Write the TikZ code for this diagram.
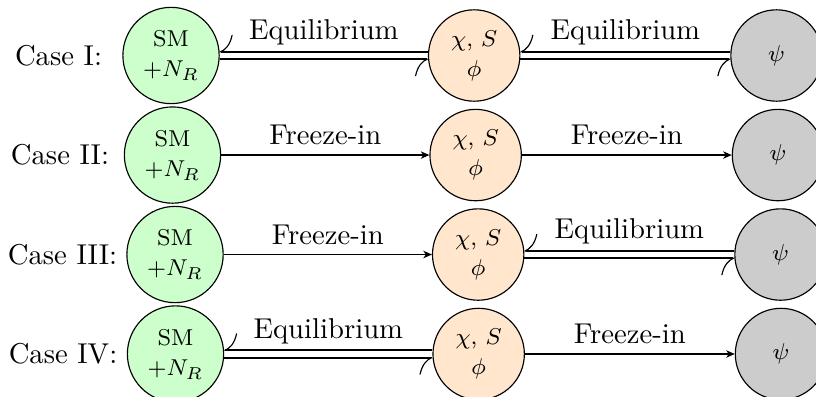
\documentclass[tikz,border=0pt]{standalone}
\usepackage{amsmath}
\usetikzlibrary{arrows.meta}
\definecolor{SMFill}{HTML}{CCFFCC}
\definecolor{DarkFill}{HTML}{FFE6CC}
\definecolor{PsiFill}{HTML}{CCCCCC}

\begin{document}
\begin{tikzpicture}[x=1cm,y=1cm,>={Stealth[length=3pt,width=2.6pt,inset=0.9pt]},
  blob/.style={circle,draw,minimum size=1.12cm,inner sep=0pt,font=\footnotesize,align=center},
  freeze/.style={->},
  eqtop/.style={line width=0.7pt,arrows={Computer Modern Rightarrow[right,length=4.5pt,width=12pt,line width=0.4pt]-}},
  eqbot/.style={line width=0.7pt,arrows={-Computer Modern Rightarrow[right,length=4.5pt,width=12pt,line width=0.4pt]}}]
\useasboundingbox (0,0) rectangle (10,-4.853);
% Case I
\node (lab1) at (0.717,-0.680) {Case I:};
\node[blob,fill=SMFill,minimum size=1.18cm] (sm1) at (2.096,-0.680) {SM\\[1pt]$+N_R$};
\node[blob,fill=DarkFill] (dk1) at (5.811,-0.680) {$\chi$, $S$\\[1pt]$\phi$};
\node[blob,fill=PsiFill] (psi1) at (9.516,-0.680) {$\psi$};
\draw[eqtop] ([yshift=1.25pt]sm1.east) -- ([yshift=1.25pt]dk1.west);
\draw[eqbot] ([yshift=-1.25pt]sm1.east) -- ([yshift=-1.25pt]dk1.west);
\path (sm1) -- node[above] {Equilibrium} (dk1);
\draw[eqtop] ([yshift=1.25pt]dk1.east) -- ([yshift=1.25pt]psi1.west);
\draw[eqbot] ([yshift=-1.25pt]dk1.east) -- ([yshift=-1.25pt]psi1.west);
\path (dk1) -- node[above] {Equilibrium} (psi1);
% Case II
\node (lab2) at (0.735,-1.900) {Case II:};
\node[blob,fill=SMFill,minimum size=1.18cm] (sm2) at (2.114,-1.900) {SM\\[1pt]$+N_R$};
\node[blob,fill=DarkFill] (dk2) at (5.829,-1.900) {$\chi$, $S$\\[1pt]$\phi$};
\node[blob,fill=PsiFill] (psi2) at (9.534,-1.900) {$\psi$};
\draw[freeze] (sm2) -- node[above] {Freeze-in} (dk2);
\draw[freeze] (dk2) -- node[above] {Freeze-in} (psi2);
% Case III
\node (lab3) at (0.766,-3.119) {Case III:};
\node[blob,fill=SMFill,minimum size=1.18cm] (sm3) at (2.145,-3.119) {SM\\[1pt]$+N_R$};
\node[blob,fill=DarkFill] (dk3) at (5.860,-3.119) {$\chi$, $S$\\[1pt]$\phi$};
\node[blob,fill=PsiFill] (psi3) at (9.565,-3.119) {$\psi$};
\draw[freeze] (sm3) -- node[above] {Freeze-in} (dk3);
\draw[eqtop] ([yshift=1.25pt]dk3.east) -- ([yshift=1.25pt]psi3.west);
\draw[eqbot] ([yshift=-1.25pt]dk3.east) -- ([yshift=-1.25pt]psi3.west);
\path (dk3) -- node[above] {Equilibrium} (psi3);
% Case IV
\node (lab4) at (0.772,-4.338) {Case IV:};
\node[blob,fill=SMFill,minimum size=1.18cm] (sm4) at (2.151,-4.338) {SM\\[1pt]$+N_R$};
\node[blob,fill=DarkFill] (dk4) at (5.866,-4.338) {$\chi$, $S$\\[1pt]$\phi$};
\node[blob,fill=PsiFill] (psi4) at (9.571,-4.338) {$\psi$};
\draw[eqtop] ([yshift=1.25pt]sm4.east) -- ([yshift=1.25pt]dk4.west);
\draw[eqbot] ([yshift=-1.25pt]sm4.east) -- ([yshift=-1.25pt]dk4.west);
\path (sm4) -- node[above] {Equilibrium} (dk4);
\draw[freeze] (dk4) -- node[above] {Freeze-in} (psi4);
\end{tikzpicture}
\end{document}
